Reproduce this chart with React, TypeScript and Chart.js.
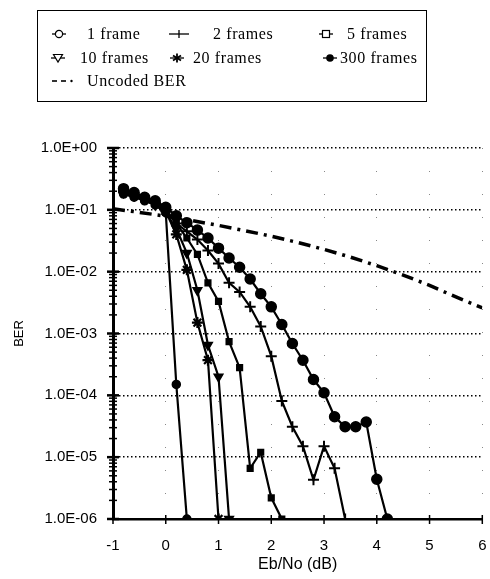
import React, { useEffect, useRef } from "react";
import { Chart, registerables } from "chart.js";

Chart.register(...registerables);

// ---- data ----
const ebNo = [-0.8, -0.6, -0.4, -0.2, 0, 0.2, 0.4, 0.6, 0.8, 1.0, 1.2, 1.4, 1.6, 1.8, 2.0, 2.2, 2.4, 2.6, 2.8, 3.0, 3.2, 3.4, 3.6, 3.8, 4.0, 4.2];
const ber1Frame = [0.18, 0.16, 0.14, 0.12, 0.09, 1.5e-4, 1e-6];
const ber2Frames = [0.19, 0.17, 0.15, 0.13, 0.1, 0.06, 0.045, 0.033, 0.022, 0.0135, 0.0066, 0.0047, 0.0027, 0.0013, 4.3e-4, 8.1e-5, 3.1e-5, 1.5e-5, 4.3e-6, 1.5e-5, 6.6e-6, 1e-6];
const ber5Frames = [0.21, 0.18, 0.16, 0.13, 0.1, 0.06, 0.035, 0.019, 0.0066, 0.0033, 7.4e-4, 2.8e-4, 6.6e-6, 1.2e-5, 2.2e-6, 1e-6];
const ber10Frames = [0.19, 0.17, 0.15, 0.12, 0.09, 0.05, 0.02, 0.005, 6.5e-4, 2e-4, 1e-6];
const ber20Frames = [0.2, 0.18, 0.15, 0.13, 0.095, 0.04, 0.0107, 1.5e-3, 3.7e-4, 1e-6];
const ber300Frames = [0.22, 0.19, 0.16, 0.14, 0.11, 0.08, 0.062, 0.047, 0.035, 0.024, 0.0166, 0.0118, 0.0076, 0.0044, 0.0027, 0.0014, 6.9e-4, 3.7e-4, 1.8e-4, 1.1e-4, 4.5e-5, 3.1e-5, 3.1e-5, 3.7e-5, 4.4e-6, 1e-6];
const uncodedEbNo = [-1, -0.5, 0, 0.5, 1, 1.5, 2, 2.5, 3, 3.5, 4, 4.5, 5, 5.5, 6];
const uncodedBer = [0.104, 0.091, 0.079, 0.067, 0.056, 0.046, 0.0375, 0.0297, 0.0229, 0.0172, 0.0125, 0.0088, 0.006, 0.0039, 0.0026];

const seriesLabels = ["1 frame", "2 frames", "5 frames", "10 frames", "20 frames", "300 frames", "Uncoded BER"];
const xTickValues = [-1, 0, 1, 2, 3, 4, 5, 6];
const yDecades = [-6, -5, -4, -3, -2, -1, 0];
const xTitle = "Eb/No (dB)";
const yTitle = "BER";

const yTickValues: number[] = [];
yDecades.forEach((e) => {
  for (let m = 1; m <= 9; m++) {
    const v = m * Math.pow(10, e);
    if (v <= 1.0000001) yTickValues.push(v);
  }
});

const isMajor = (v: number) => {
  if (!v) return false;
  const l = Math.log10(v);
  return Math.abs(l - Math.round(l)) < 1e-6;
};
const fmtY = (v: number) => {
  const e = Math.round(Math.log10(v));
  return "1.0E" + (e >= 0 ? "+" : "-") + String(Math.abs(e)).padStart(2, "0");
};

const pts = (ys: number[], xs: number[] = ebNo) => ys.map((y, i) => ({ x: xs[i], y }));

const tickMarks = {
  id: "tickMarks",
  afterDraw(chart: any) {
    const ctx = chart.ctx;
    const xs = chart.scales.x;
    const ys = chart.scales.y;
    ctx.save();
    ctx.strokeStyle = "#000";
    yTickValues.forEach((v) => {
      const py = ys.getPixelForValue(v);
      const maj = isMajor(v);
      ctx.lineWidth = maj ? 2.5 : 1.5;
      const h = maj ? 6 : 4;
      ctx.beginPath();
      ctx.moveTo(xs.left - h, py);
      ctx.lineTo(xs.left + h, py);
      ctx.stroke();
    });
    xTickValues.forEach((v) => {
      const px = xs.getPixelForValue(v);
      ctx.lineWidth = 1.5;
      ctx.beginPath();
      ctx.moveTo(px, ys.bottom - 4);
      ctx.lineTo(px, ys.bottom + 5);
      ctx.stroke();
    });
    ctx.restore();
  },
};

const ChartView = () => {
  const ref = useRef<HTMLCanvasElement | null>(null);
  useEffect(() => {
    if (!ref.current) return;
    const base = {
      borderColor: "#000",
      backgroundColor: "#000",
      borderWidth: 2.2,
      pointBorderColor: "#000",
      pointBackgroundColor: "#000",
      pointBorderWidth: 1.5,
      tension: 0,
    };
    const chart = new Chart(ref.current, {
      type: "line",
      data: {
        datasets: [
          { ...base, label: seriesLabels[6], data: pts(uncodedBer, uncodedEbNo), borderWidth: 3.5, borderDash: [12, 6, 3, 6], pointRadius: 0 },
          { ...base, label: seriesLabels[0], data: pts(ber1Frame), pointStyle: "circle", pointRadius: 4 },
          { ...base, label: seriesLabels[1], data: pts(ber2Frames), pointStyle: "cross", pointRadius: 5.5, pointBorderWidth: 2 },
          { ...base, label: seriesLabels[2], data: pts(ber5Frames), pointStyle: "rect", pointRadius: 4 },
          { ...base, label: seriesLabels[3], data: pts(ber10Frames), pointStyle: "triangle", pointRotation: 180, pointRadius: 5 },
          { ...base, label: seriesLabels[4], data: pts(ber20Frames), pointStyle: "star", pointRadius: 5.5, pointBorderWidth: 2.2 },
          { ...base, label: seriesLabels[5], data: pts(ber300Frames), pointStyle: "circle", pointRadius: 5 },
        ],
      },
      options: {
        animation: false,
        responsive: false,
        devicePixelRatio: 1,
        layout: { padding: { top: 148, right: 2, left: 0, bottom: 0 } },
        plugins: { legend: { display: false }, tooltip: { enabled: false } },
        scales: {
          x: {
            type: "linear",
            min: -1,
            max: 6,
            afterBuildTicks: (s: any) => {
              s.ticks = xTickValues.map((v) => ({ value: v }));
            },
            afterFit: (s: any) => {
              s.height = 60;
            },
            ticks: {
              font: { family: "Liberation Sans", size: 15 },
              color: "#000",
              padding: 1,
              autoSkip: false,
              maxRotation: 0,
              callback: (v: any) => String(v),
            },
            grid: { drawTicks: true, tickLength: 17, tickColor: "rgba(0,0,0,0)", color: "#888", lineWidth: 1 },
            border: { display: true, color: "#000", width: 2.5, dash: [1, 22] },
            title: {
              display: true,
              text: xTitle,
              font: { family: "Liberation Sans", size: 16 },
              color: "#000",
              padding: { top: 0, bottom: 5 },
            },
          },
          y: {
            type: "logarithmic",
            min: 1e-6,
            max: 1,
            afterBuildTicks: (s: any) => {
              s.ticks = yTickValues.map((v) => ({ value: v, major: isMajor(v) }));
            },
            afterFit: (s: any) => {
              s.width = 113;
            },
            ticks: {
              font: { family: "Liberation Sans", size: 15 },
              color: "#000",
              padding: 16,
              autoSkip: false,
              callback: (v: any) => (isMajor(Number(v)) ? fmtY(Number(v)) : ""),
            },
            grid: {
              drawTicks: false,
              lineWidth: 1.5,
              color: (c: any) => (c.tick && isMajor(c.tick.value) ? "#000" : "rgba(0,0,0,0)"),
            },
            border: { display: true, color: "#000", width: 3, dash: [1.5, 2.5] },
            title: {
              display: true,
              text: yTitle,
              font: { family: "Liberation Sans", size: 13 },
              color: "#000",
              padding: { top: 12, bottom: 0 },
            },
          },
        },
      } as any,
      plugins: [tickMarks],
    } as any);
    return () => chart.destroy();
  }, []);
  return <canvas ref={ref} width={490} height={579} style={{ position: "absolute", left: 0, top: 0 }} />;
};

const Marker = ({ kind, cx, cy }: { kind: string; cx: number; cy: number }) => {
  const w = 26;
  const h = 14;
  let line = <line x1={6} y1={7} x2={20} y2={7} stroke="#000" strokeWidth={1.3} />;
  let shape: any = null;
  if (kind === "circle") shape = <circle cx={13} cy={7} r={3.6} fill="#fff" stroke="#000" strokeWidth={1.2} />;
  if (kind === "cross") {
    line = <line x1={3} y1={7} x2={23} y2={7} stroke="#000" strokeWidth={1.3} />;
    shape = <line x1={13} y1={3} x2={13} y2={11} stroke="#000" strokeWidth={1.3} />;
  }
  if (kind === "rect") shape = <rect x={9.5} y={3.5} width={7} height={7} fill="#fff" stroke="#000" strokeWidth={1.2} />;
  if (kind === "tri") shape = <polygon points="8.5,3.5 17.5,3.5 13,11" fill="#fff" stroke="#000" strokeWidth={1.2} />;
  if (kind === "star")
    shape = (
      <g stroke="#000" strokeWidth={1.8}>
        <line x1={13} y1={2.5} x2={13} y2={11.5} />
        <line x1={9} y1={4.5} x2={17} y2={9.5} />
        <line x1={9} y1={9.5} x2={17} y2={4.5} />
      </g>
    );
  if (kind === "dot") shape = <circle cx={13} cy={7} r={3.8} fill="#000" />;
  if (kind === "dashdot") {
    line = <line x1={2} y1={7} x2={7} y2={7} stroke="#000" strokeWidth={1.6} />;
    shape = (
      <g>
        <line x1={11} y1={7} x2={16} y2={7} stroke="#000" strokeWidth={1.6} />
        <circle cx={21.5} cy={7} r={1.2} fill="#000" />
      </g>
    );
  }
  return (
    <svg width={w} height={h} style={{ position: "absolute", left: cx - w / 2, top: cy - h / 2 }}>
      {line}
      {shape}
    </svg>
  );
};

const legendItems = [
  { kind: "circle", mx: 59, tx: 87, y: 34, label: seriesLabels[0] },
  { kind: "cross", mx: 179, tx: 213, y: 34, label: seriesLabels[1] },
  { kind: "rect", mx: 326, tx: 347, y: 34, label: seriesLabels[2] },
  { kind: "tri", mx: 58, tx: 80, y: 58, label: seriesLabels[3] },
  { kind: "star", mx: 177, tx: 193, y: 58, label: seriesLabels[4] },
  { kind: "dot", mx: 330, tx: 340, y: 58, label: seriesLabels[5] },
  { kind: "dashdot", mx: 63, tx: 87, y: 81, label: seriesLabels[6] },
];

export default function App() {
  return (
    <div style={{ position: "fixed", left: 0, top: 0, width: 490, height: 579, background: "#fff", overflow: "hidden" }}>
      <ChartView />
      <div
        style={{
          position: "absolute",
          left: 37,
          top: 10,
          width: 388,
          height: 90,
          border: "1.5px solid #000",
        }}
      />
      {legendItems.map((it, i) => (
        <React.Fragment key={i}>
          <Marker kind={it.kind} cx={it.mx} cy={it.y} />
          <div
            style={{
              position: "absolute",
              left: it.tx,
              top: it.y - 10,
              height: 20,
              lineHeight: "20px",
              fontFamily: "'Liberation Serif', serif",
              fontSize: 16,
              letterSpacing: 0.6,
              color: "#000",
              whiteSpace: "nowrap",
            }}
          >
            {it.label}
          </div>
        </React.Fragment>
      ))}
    </div>
  );
}
